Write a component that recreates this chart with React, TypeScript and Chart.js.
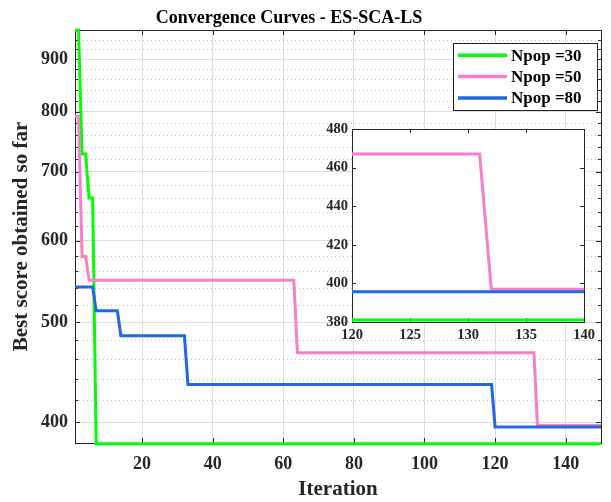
import React, { useEffect, useRef } from 'react';
import { Chart, registerables } from 'chart.js';

Chart.register(...registerables);

// ---------- text ----------
const TITLE = 'Convergence Curves - ES-SCA-LS';
const X_LABEL = 'Iteration';
const Y_LABEL = 'Best score obtained so far';

// ---------- series ----------
const seriesLabels = ['Npop =30', 'Npop =50', 'Npop =80'];
const seriesColors = ['#00ff00', '#f77fcc', '#2268e4'];

const npop30Iter = [1, 2, 3, 4, 5, 6, 7, 150];
const npop30Score = [960, 960, 728, 728, 660, 660, 381, 381];

const npop50Iter = [1, 2, 3, 4, 5, 63, 64, 131, 132, 150];
const npop50Score = [792, 792, 579, 579, 549, 549, 467, 467, 397, 397];

const npop80Iter = [1, 6, 7, 13, 14, 32, 33, 119, 120, 150];
const npop80Score = [541, 541, 513, 513, 485, 485, 435, 435, 395.7, 395.7];

// ---------- axes ----------
const xRange = [1, 150];
const yRange = [381.7, 960.5];
const xTicks = [20, 40, 60, 80, 100, 120, 140];
const yTicks = [400, 500, 600, 700, 800, 900];
const yMinorTicks = [
  420, 440, 460, 480, 520, 540, 560, 580, 620, 640, 660, 680,
  720, 740, 760, 780, 820, 840, 860, 880, 920, 940, 960,
];

const insetXRange = [120, 140];
const insetYRange = [380, 480];
const insetXTicks = [120, 125, 130, 135, 140];
const insetYTicks = [380, 400, 420, 440, 460, 480];

// ---------- styles ----------
const SERIF = '"Liberation Serif", "Times New Roman", serif';
const AXIS_COLOR = '#262626';
const GRID_COLOR = '#dedede';
const MINOR_GRID_COLOR = '#c2c2c2';

const seriesIters = [npop30Iter, npop50Iter, npop80Iter];
const seriesScores = [npop30Score, npop50Score, npop80Score];

function makeDatasets(lineWidth: number, clip: any) {
  return seriesLabels.map((label, i) => ({
    label,
    data: seriesIters[i].map((x, k) => ({ x, y: seriesScores[i][k] })),
    borderColor: seriesColors[i],
    backgroundColor: seriesColors[i],
    borderWidth: lineWidth,
    pointRadius: 0,
    tension: 0,
    fill: false,
    clip,
    order: seriesLabels.length - i,
  }));
}

const px = (v: number) => Math.round(v) + 0.5;

const mainDecor = {
  id: 'mainDecor',
  beforeDatasetsDraw(chart: any) {
    const { ctx, chartArea: a, scales } = chart;
    const ys = scales.y;
    const xs = scales.x;
    ctx.save();
    ctx.lineWidth = 1;
    // minor dotted grid
    ctx.strokeStyle = MINOR_GRID_COLOR;
    ctx.setLineDash([1, 3]);
    for (const v of yMinorTicks) {
      const p = ys.getPixelForValue(v);
      if (p < a.top + 1.5) continue;
      ctx.beginPath();
      ctx.moveTo(a.left, px(p));
      ctx.lineTo(a.right, px(p));
      ctx.stroke();
    }
    ctx.setLineDash([]);
    ctx.strokeStyle = AXIS_COLOR;
    // top and right box lines
    ctx.beginPath();
    ctx.moveTo(a.left, px(a.top));
    ctx.lineTo(a.right + 1, px(a.top));
    ctx.moveTo(px(a.right), a.top);
    ctx.lineTo(px(a.right), a.bottom + 1);
    ctx.stroke();
    // inward ticks
    ctx.beginPath();
    for (const v of yTicks) {
      const p = px(ys.getPixelForValue(v));
      ctx.moveTo(a.left, p); ctx.lineTo(a.left + 5, p);
      ctx.moveTo(a.right, p); ctx.lineTo(a.right - 5, p);
    }
    for (const v of yMinorTicks) {
      const p = ys.getPixelForValue(v);
      if (p < a.top + 1.5) continue;
      ctx.moveTo(a.left, px(p)); ctx.lineTo(a.left + 3, px(p));
      ctx.moveTo(a.right, px(p)); ctx.lineTo(a.right - 3, px(p));
    }
    for (const v of xTicks) {
      const p = px(xs.getPixelForValue(v));
      ctx.moveTo(p, a.bottom); ctx.lineTo(p, a.bottom - 5);
      ctx.moveTo(p, a.top); ctx.lineTo(p, a.top + 5);
    }
    ctx.stroke();
    ctx.restore();
  },
  afterDraw(chart: any) {
    const { ctx, chartArea: a } = chart;
    ctx.save();
    // title
    ctx.fillStyle = '#000';
    ctx.font = `bold 18px ${SERIF}`;
    ctx.textAlign = 'center';
    ctx.textBaseline = 'alphabetic';
    ctx.fillText(TITLE, 289, 22.5);
    // legend box
    const bw = 144, bh = 67;
    const bx = a.right - 4 - bw;
    const by = a.top + 13;
    ctx.fillStyle = '#fff';
    ctx.fillRect(bx, by, bw, bh);
    ctx.strokeStyle = AXIS_COLOR;
    ctx.lineWidth = 1;
    ctx.strokeRect(px(bx), px(by), bw, bh);
    ctx.font = `bold 17px ${SERIF}`;
    ctx.textAlign = 'left';
    ctx.textBaseline = 'middle';
    chart.data.datasets.forEach((ds: any, i: number) => {
      const cy = by + 12.3 + i * 21.3;
      ctx.strokeStyle = ds.borderColor;
      ctx.lineWidth = 3.5;
      ctx.beginPath();
      ctx.moveTo(bx + 5, cy);
      ctx.lineTo(bx + 54, cy);
      ctx.stroke();
      ctx.fillStyle = '#000';
      ctx.fillText(ds.label, bx + 58, cy + 1);
    });
    ctx.restore();
  },
};

const insetDecor = {
  id: 'insetDecor',
  beforeDraw(chart: any) {
    const { ctx, chartArea: a } = chart;
    ctx.save();
    ctx.fillStyle = '#fff';
    ctx.fillRect(a.left, a.top, a.right - a.left, a.bottom - a.top);
    ctx.restore();
  },
  beforeDatasetsDraw(chart: any) {
    const { ctx, chartArea: a, scales } = chart;
    ctx.save();
    ctx.strokeStyle = AXIS_COLOR;
    ctx.lineWidth = 1;
    ctx.beginPath();
    ctx.moveTo(a.left, px(a.top));
    ctx.lineTo(a.right + 1, px(a.top));
    ctx.moveTo(px(a.right), a.top);
    ctx.lineTo(px(a.right), a.bottom + 1);
    for (const v of insetYTicks) {
      const p = px(scales.y.getPixelForValue(v));
      ctx.moveTo(a.left, p); ctx.lineTo(a.left + 4, p);
      ctx.moveTo(a.right, p); ctx.lineTo(a.right - 4, p);
    }
    for (const v of insetXTicks) {
      const p = px(scales.x.getPixelForValue(v));
      ctx.moveTo(p, a.bottom); ctx.lineTo(p, a.bottom - 4);
      ctx.moveTo(p, a.top); ctx.lineTo(p, a.top + 4);
    }
    ctx.stroke();
    ctx.restore();
  },
};

export default function App() {
  const mainRef = useRef<HTMLCanvasElement>(null);
  const insetRef = useRef<HTMLCanvasElement>(null);

  useEffect(() => {
    const tickFont = { family: SERIF, size: 18, weight: 'bold' as const };
    const axisTitleFont = { family: SERIF, size: 21, weight: 'bold' as const };
    const main = new Chart(mainRef.current as HTMLCanvasElement, {
      type: 'line',
      data: { datasets: makeDatasets(3, { left: 3, right: 3, top: 3, bottom: 3 }) as any },
      options: {
        animation: false,
        responsive: false,
        devicePixelRatio: 1,
        layout: { padding: { top: 30, right: 10, left: 0, bottom: 0 } },
        plugins: { legend: { display: false }, tooltip: { enabled: false }, title: { display: false } },
        scales: {
          x: {
            type: 'linear',
            min: xRange[0],
            max: xRange[1],
            afterBuildTicks: (s: any) => { s.ticks = xTicks.map((value) => ({ value })); },
            afterFit: (s: any) => { s.height = 59; },
            grid: { color: GRID_COLOR, drawTicks: false },
            border: { color: AXIS_COLOR, width: 1 },
            ticks: { font: tickFont, color: AXIS_COLOR, padding: 11, maxRotation: 0, autoSkip: false, callback: (v: any) => String(v) },
            title: { display: true, text: X_LABEL, font: axisTitleFont, color: AXIS_COLOR, padding: { top: 0, bottom: 0 } },
          },
          y: {
            type: 'logarithmic',
            min: yRange[0],
            max: yRange[1],
            afterBuildTicks: (s: any) => { s.ticks = yTicks.map((value) => ({ value })); },
            afterFit: (s: any) => { s.width = 75; },
            grid: { color: GRID_COLOR, drawTicks: false },
            border: { color: AXIS_COLOR, width: 1 },
            ticks: { font: tickFont, color: AXIS_COLOR, padding: 7, autoSkip: false, callback: (v: any) => String(v) },
            title: { display: true, text: Y_LABEL, font: axisTitleFont, color: AXIS_COLOR, padding: { top: 9, bottom: 0 } },
          },
        },
      } as any,
      plugins: [mainDecor],
    });

    const insetFont = { family: SERIF, size: 14.5, weight: 'bold' as const };
    const inset = new Chart(insetRef.current as HTMLCanvasElement, {
      type: 'line',
      data: { datasets: makeDatasets(3, { left: 0, right: 0, top: 3, bottom: 3 }) as any },
      options: {
        animation: false,
        responsive: false,
        devicePixelRatio: 1,
        layout: { padding: { top: 14, right: 13, left: 0, bottom: 0 } },
        plugins: { legend: { display: false }, tooltip: { enabled: false }, title: { display: false } },
        scales: {
          x: {
            type: 'linear',
            min: insetXRange[0],
            max: insetXRange[1],
            afterBuildTicks: (s: any) => { s.ticks = insetXTicks.map((value) => ({ value })); },
            afterFit: (s: any) => { s.height = 28; },
            grid: { display: false, drawTicks: false },
            border: { display: true, color: AXIS_COLOR, width: 1 },
            ticks: { font: insetFont, color: AXIS_COLOR, padding: 5, maxRotation: 0, autoSkip: false, callback: (v: any) => String(v) },
          },
          y: {
            type: 'linear',
            min: insetYRange[0],
            max: insetYRange[1],
            afterBuildTicks: (s: any) => { s.ticks = insetYTicks.map((value) => ({ value })); },
            afterFit: (s: any) => { s.width = 52; },
            grid: { display: false, drawTicks: false },
            border: { display: true, color: AXIS_COLOR, width: 1 },
            ticks: { font: insetFont, color: AXIS_COLOR, padding: 4, autoSkip: false, callback: (v: any) => String(v) },
          },
        },
      } as any,
      plugins: [insetDecor],
    });

    return () => {
      main.destroy();
      inset.destroy();
    };
  }, []);

  return (
    <div style={{ position: 'fixed', left: 0, top: 0, width: 611, height: 502, background: '#fff' }}>
      <canvas
        ref={mainRef}
        width={611}
        height={502}
        style={{ position: 'absolute', left: 0, top: 0, width: 611, height: 502, display: 'block' }}
      />
      <canvas
        ref={insetRef}
        width={300}
        height={235}
        style={{ position: 'absolute', left: 300, top: 115, width: 300, height: 235, display: 'block' }}
      />
    </div>
  );
}
